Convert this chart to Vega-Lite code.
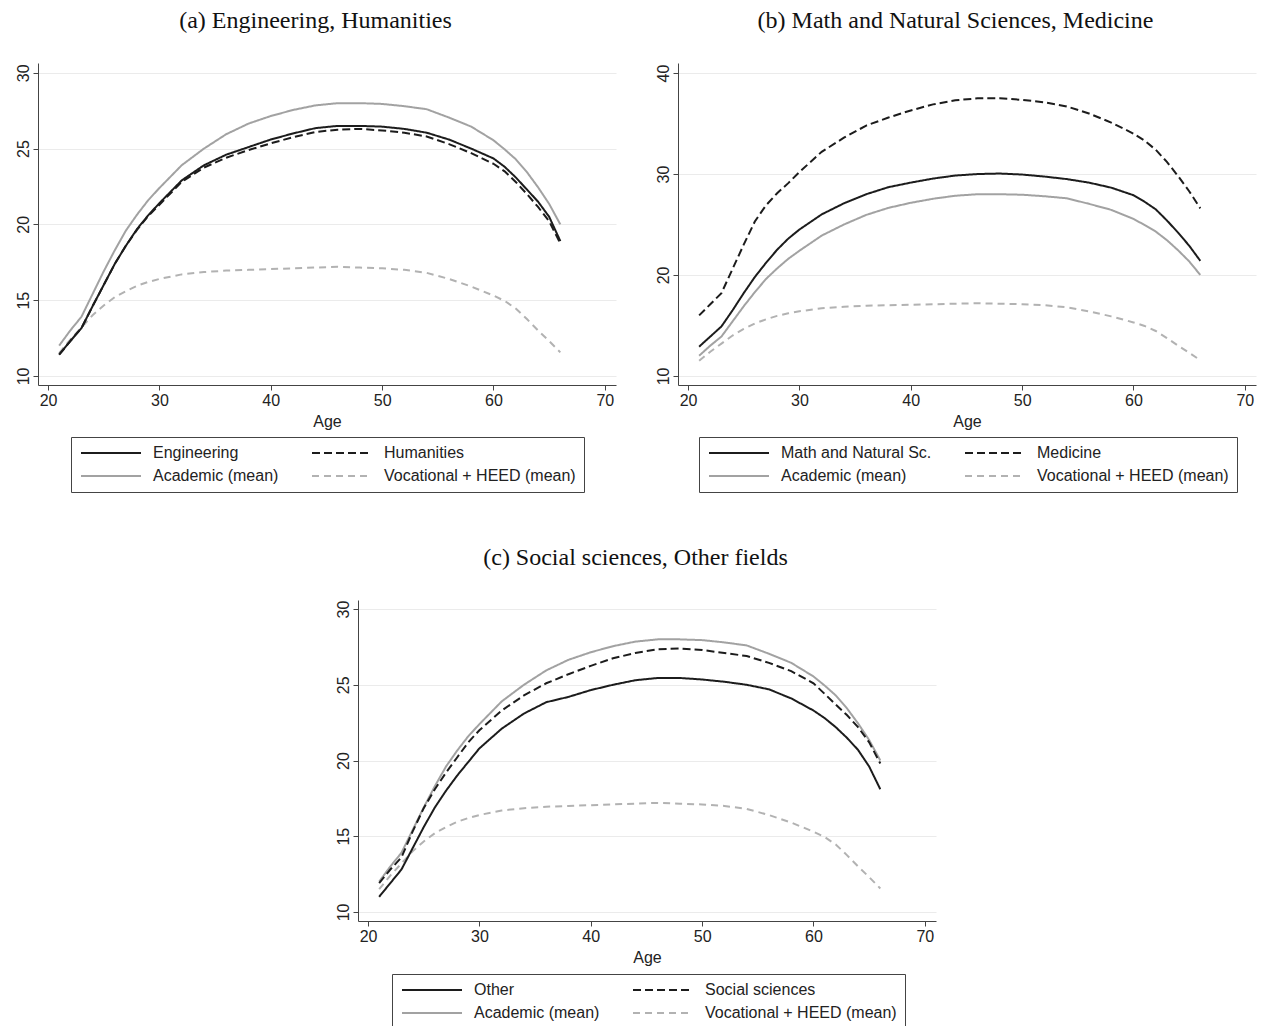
{
  "$schema": "https://vega.github.io/schema/vega-lite/v6.json",
  "background": "white",
  "padding": {"left": 14, "top": 9, "right": 4, "bottom": 0},
  "datasets": {
    "d": [
      {"s":"Academic (mean)","a":21,"v":12.0},{"s":"Academic (mean)","a":22,"v":13.0},{"s":"Academic (mean)","a":23,"v":13.9},{"s":"Academic (mean)","a":24,"v":15.4},{"s":"Academic (mean)","a":25,"v":16.9},{"s":"Academic (mean)","a":26,"v":18.3},{"s":"Academic (mean)","a":27,"v":19.6},{"s":"Academic (mean)","a":28,"v":20.65},{"s":"Academic (mean)","a":29,"v":21.6},{"s":"Academic (mean)","a":30,"v":22.4},{"s":"Academic (mean)","a":32,"v":23.9},{"s":"Academic (mean)","a":34,"v":25.0},{"s":"Academic (mean)","a":36,"v":25.95},{"s":"Academic (mean)","a":38,"v":26.65},{"s":"Academic (mean)","a":40,"v":27.15},{"s":"Academic (mean)","a":42,"v":27.55},{"s":"Academic (mean)","a":44,"v":27.85},{"s":"Academic (mean)","a":46,"v":28.0},{"s":"Academic (mean)","a":48,"v":28.0},{"s":"Academic (mean)","a":50,"v":27.95},{"s":"Academic (mean)","a":52,"v":27.8},{"s":"Academic (mean)","a":54,"v":27.6},{"s":"Academic (mean)","a":56,"v":27.05},{"s":"Academic (mean)","a":58,"v":26.45},{"s":"Academic (mean)","a":60,"v":25.55},{"s":"Academic (mean)","a":61,"v":24.95},{"s":"Academic (mean)","a":62,"v":24.3},{"s":"Academic (mean)","a":63,"v":23.45},{"s":"Academic (mean)","a":64,"v":22.45},{"s":"Academic (mean)","a":65,"v":21.35},{"s":"Academic (mean)","a":66,"v":20.0},
      {"s":"Vocational + HEED (mean)","a":21,"v":11.5},{"s":"Vocational + HEED (mean)","a":22,"v":12.4},{"s":"Vocational + HEED (mean)","a":23,"v":13.2},{"s":"Vocational + HEED (mean)","a":24,"v":14.0},{"s":"Vocational + HEED (mean)","a":25,"v":14.65},{"s":"Vocational + HEED (mean)","a":26,"v":15.2},{"s":"Vocational + HEED (mean)","a":27,"v":15.6},{"s":"Vocational + HEED (mean)","a":28,"v":15.95},{"s":"Vocational + HEED (mean)","a":29,"v":16.2},{"s":"Vocational + HEED (mean)","a":30,"v":16.4},{"s":"Vocational + HEED (mean)","a":32,"v":16.7},{"s":"Vocational + HEED (mean)","a":34,"v":16.85},{"s":"Vocational + HEED (mean)","a":36,"v":16.95},{"s":"Vocational + HEED (mean)","a":38,"v":17.0},{"s":"Vocational + HEED (mean)","a":40,"v":17.05},{"s":"Vocational + HEED (mean)","a":42,"v":17.1},{"s":"Vocational + HEED (mean)","a":44,"v":17.15},{"s":"Vocational + HEED (mean)","a":46,"v":17.2},{"s":"Vocational + HEED (mean)","a":48,"v":17.15},{"s":"Vocational + HEED (mean)","a":50,"v":17.1},{"s":"Vocational + HEED (mean)","a":52,"v":17.0},{"s":"Vocational + HEED (mean)","a":54,"v":16.8},{"s":"Vocational + HEED (mean)","a":56,"v":16.4},{"s":"Vocational + HEED (mean)","a":58,"v":15.9},{"s":"Vocational + HEED (mean)","a":60,"v":15.3},{"s":"Vocational + HEED (mean)","a":61,"v":14.95},{"s":"Vocational + HEED (mean)","a":62,"v":14.45},{"s":"Vocational + HEED (mean)","a":63,"v":13.75},{"s":"Vocational + HEED (mean)","a":64,"v":13.0},{"s":"Vocational + HEED (mean)","a":65,"v":12.3},{"s":"Vocational + HEED (mean)","a":66,"v":11.55},
      {"s":"Engineering","a":21,"v":11.4},{"s":"Engineering","a":22,"v":12.3},{"s":"Engineering","a":23,"v":13.15},{"s":"Engineering","a":24,"v":14.6},{"s":"Engineering","a":25,"v":16.0},{"s":"Engineering","a":26,"v":17.4},{"s":"Engineering","a":27,"v":18.6},{"s":"Engineering","a":28,"v":19.7},{"s":"Engineering","a":29,"v":20.6},{"s":"Engineering","a":30,"v":21.4},{"s":"Engineering","a":32,"v":22.9},{"s":"Engineering","a":34,"v":23.9},{"s":"Engineering","a":36,"v":24.6},{"s":"Engineering","a":38,"v":25.1},{"s":"Engineering","a":40,"v":25.6},{"s":"Engineering","a":42,"v":26.0},{"s":"Engineering","a":44,"v":26.35},{"s":"Engineering","a":46,"v":26.5},{"s":"Engineering","a":48,"v":26.5},{"s":"Engineering","a":50,"v":26.45},{"s":"Engineering","a":52,"v":26.3},{"s":"Engineering","a":54,"v":26.05},{"s":"Engineering","a":56,"v":25.6},{"s":"Engineering","a":58,"v":25.0},{"s":"Engineering","a":60,"v":24.35},{"s":"Engineering","a":61,"v":23.8},{"s":"Engineering","a":62,"v":23.1},{"s":"Engineering","a":63,"v":22.3},{"s":"Engineering","a":64,"v":21.5},{"s":"Engineering","a":65,"v":20.5},{"s":"Engineering","a":66,"v":18.9},
      {"s":"Humanities","a":21,"v":11.4},{"s":"Humanities","a":22,"v":12.3},{"s":"Humanities","a":23,"v":13.15},{"s":"Humanities","a":24,"v":14.6},{"s":"Humanities","a":25,"v":16.0},{"s":"Humanities","a":26,"v":17.4},{"s":"Humanities","a":27,"v":18.6},{"s":"Humanities","a":28,"v":19.65},{"s":"Humanities","a":29,"v":20.55},{"s":"Humanities","a":30,"v":21.3},{"s":"Humanities","a":32,"v":22.8},{"s":"Humanities","a":34,"v":23.75},{"s":"Humanities","a":36,"v":24.4},{"s":"Humanities","a":38,"v":24.9},{"s":"Humanities","a":40,"v":25.35},{"s":"Humanities","a":42,"v":25.75},{"s":"Humanities","a":44,"v":26.1},{"s":"Humanities","a":46,"v":26.25},{"s":"Humanities","a":48,"v":26.3},{"s":"Humanities","a":50,"v":26.2},{"s":"Humanities","a":52,"v":26.05},{"s":"Humanities","a":54,"v":25.8},{"s":"Humanities","a":56,"v":25.3},{"s":"Humanities","a":58,"v":24.7},{"s":"Humanities","a":60,"v":24.0},{"s":"Humanities","a":61,"v":23.5},{"s":"Humanities","a":62,"v":22.8},{"s":"Humanities","a":63,"v":22.0},{"s":"Humanities","a":64,"v":21.15},{"s":"Humanities","a":65,"v":20.2},{"s":"Humanities","a":66,"v":18.75},
      {"s":"Math and Natural Sc.","a":21,"v":12.9},{"s":"Math and Natural Sc.","a":22,"v":13.9},{"s":"Math and Natural Sc.","a":23,"v":14.9},{"s":"Math and Natural Sc.","a":24,"v":16.5},{"s":"Math and Natural Sc.","a":25,"v":18.2},{"s":"Math and Natural Sc.","a":26,"v":19.8},{"s":"Math and Natural Sc.","a":27,"v":21.2},{"s":"Math and Natural Sc.","a":28,"v":22.5},{"s":"Math and Natural Sc.","a":29,"v":23.6},{"s":"Math and Natural Sc.","a":30,"v":24.5},{"s":"Math and Natural Sc.","a":32,"v":26.0},{"s":"Math and Natural Sc.","a":34,"v":27.1},{"s":"Math and Natural Sc.","a":36,"v":28.0},{"s":"Math and Natural Sc.","a":38,"v":28.7},{"s":"Math and Natural Sc.","a":40,"v":29.15},{"s":"Math and Natural Sc.","a":42,"v":29.55},{"s":"Math and Natural Sc.","a":44,"v":29.85},{"s":"Math and Natural Sc.","a":46,"v":30.0},{"s":"Math and Natural Sc.","a":48,"v":30.05},{"s":"Math and Natural Sc.","a":50,"v":29.95},{"s":"Math and Natural Sc.","a":52,"v":29.75},{"s":"Math and Natural Sc.","a":54,"v":29.5},{"s":"Math and Natural Sc.","a":56,"v":29.15},{"s":"Math and Natural Sc.","a":58,"v":28.65},{"s":"Math and Natural Sc.","a":60,"v":27.9},{"s":"Math and Natural Sc.","a":61,"v":27.25},{"s":"Math and Natural Sc.","a":62,"v":26.5},{"s":"Math and Natural Sc.","a":63,"v":25.4},{"s":"Math and Natural Sc.","a":64,"v":24.2},{"s":"Math and Natural Sc.","a":65,"v":22.9},{"s":"Math and Natural Sc.","a":66,"v":21.4},
      {"s":"Medicine","a":21,"v":16.0},{"s":"Medicine","a":22,"v":17.1},{"s":"Medicine","a":23,"v":18.2},{"s":"Medicine","a":24,"v":20.6},{"s":"Medicine","a":25,"v":23.0},{"s":"Medicine","a":26,"v":25.3},{"s":"Medicine","a":27,"v":26.9},{"s":"Medicine","a":28,"v":28.1},{"s":"Medicine","a":29,"v":29.1},{"s":"Medicine","a":30,"v":30.2},{"s":"Medicine","a":32,"v":32.2},{"s":"Medicine","a":34,"v":33.6},{"s":"Medicine","a":36,"v":34.8},{"s":"Medicine","a":38,"v":35.6},{"s":"Medicine","a":40,"v":36.3},{"s":"Medicine","a":42,"v":36.9},{"s":"Medicine","a":44,"v":37.3},{"s":"Medicine","a":46,"v":37.5},{"s":"Medicine","a":48,"v":37.5},{"s":"Medicine","a":50,"v":37.35},{"s":"Medicine","a":52,"v":37.1},{"s":"Medicine","a":54,"v":36.7},{"s":"Medicine","a":56,"v":36.0},{"s":"Medicine","a":58,"v":35.1},{"s":"Medicine","a":60,"v":34.0},{"s":"Medicine","a":61,"v":33.3},{"s":"Medicine","a":62,"v":32.4},{"s":"Medicine","a":63,"v":31.2},{"s":"Medicine","a":64,"v":29.8},{"s":"Medicine","a":65,"v":28.3},{"s":"Medicine","a":66,"v":26.6},
      {"s":"Other","a":21,"v":11.0},{"s":"Other","a":22,"v":11.9},{"s":"Other","a":23,"v":12.8},{"s":"Other","a":24,"v":14.2},{"s":"Other","a":25,"v":15.6},{"s":"Other","a":26,"v":16.9},{"s":"Other","a":27,"v":18.0},{"s":"Other","a":28,"v":19.0},{"s":"Other","a":29,"v":19.9},{"s":"Other","a":30,"v":20.8},{"s":"Other","a":32,"v":22.1},{"s":"Other","a":34,"v":23.1},{"s":"Other","a":36,"v":23.85},{"s":"Other","a":38,"v":24.2},{"s":"Other","a":40,"v":24.65},{"s":"Other","a":42,"v":25.0},{"s":"Other","a":44,"v":25.3},{"s":"Other","a":46,"v":25.45},{"s":"Other","a":48,"v":25.45},{"s":"Other","a":50,"v":25.35},{"s":"Other","a":52,"v":25.2},{"s":"Other","a":54,"v":25.0},{"s":"Other","a":56,"v":24.7},{"s":"Other","a":58,"v":24.1},{"s":"Other","a":60,"v":23.3},{"s":"Other","a":61,"v":22.8},{"s":"Other","a":62,"v":22.2},{"s":"Other","a":63,"v":21.5},{"s":"Other","a":64,"v":20.7},{"s":"Other","a":65,"v":19.6},{"s":"Other","a":66,"v":18.1},
      {"s":"Social sciences","a":21,"v":11.9},{"s":"Social sciences","a":22,"v":12.8},{"s":"Social sciences","a":23,"v":13.6},{"s":"Social sciences","a":24,"v":15.3},{"s":"Social sciences","a":25,"v":16.85},{"s":"Social sciences","a":26,"v":18.1},{"s":"Social sciences","a":27,"v":19.2},{"s":"Social sciences","a":28,"v":20.2},{"s":"Social sciences","a":29,"v":21.2},{"s":"Social sciences","a":30,"v":22.0},{"s":"Social sciences","a":32,"v":23.3},{"s":"Social sciences","a":34,"v":24.3},{"s":"Social sciences","a":36,"v":25.1},{"s":"Social sciences","a":38,"v":25.7},{"s":"Social sciences","a":40,"v":26.25},{"s":"Social sciences","a":42,"v":26.75},{"s":"Social sciences","a":44,"v":27.1},{"s":"Social sciences","a":46,"v":27.35},{"s":"Social sciences","a":48,"v":27.4},{"s":"Social sciences","a":50,"v":27.3},{"s":"Social sciences","a":52,"v":27.1},{"s":"Social sciences","a":54,"v":26.9},{"s":"Social sciences","a":56,"v":26.45},{"s":"Social sciences","a":58,"v":25.9},{"s":"Social sciences","a":60,"v":25.1},{"s":"Social sciences","a":61,"v":24.4},{"s":"Social sciences","a":62,"v":23.7},{"s":"Social sciences","a":63,"v":23.0},{"s":"Social sciences","a":64,"v":22.2},{"s":"Social sciences","a":65,"v":21.2},{"s":"Social sciences","a":66,"v":19.8}
    ]
  },
  "config": {
    "view": {"stroke": null},
    "font": "Liberation Sans",
    "axis": {"domainColor": "#444", "tickColor": "#444", "tickSize": 5, "labelFont": "Liberation Sans", "labelFontSize": 16, "labelColor": "#222", "titleFont": "Liberation Sans", "titleFontSize": 16, "titleFontWeight": "normal", "titleColor": "#222", "grid": false, "labelPadding": 2},
    "axisY": {"grid": true, "gridColor": "#ebebeb", "labelAngle": -90, "labelAlign": "center", "labelBaseline": "bottom"},
    "axisX": {"titlePadding": 5},
    "title": {"font": "Liberation Serif", "fontSize": 24, "fontWeight": "normal", "color": "#111", "frame": "bounds", "anchor": "middle", "offset": 30},
    "legend": {"direction": "horizontal", "symbolType": "M-5,0H5", "symbolSize": 144, "symbolOffset": 24, "labelOffset": 34, "labelLimit": 400, "labelFont": "Liberation Sans", "labelFontSize": 16, "labelColor": "#222", "columns": 2, "columnPadding": 29, "rowPadding": 7, "padding": 8, "strokeColor": "#444", "fillColor": "white", "symbolFillColor": "transparent"}
  },
  "spacing": 53,
  "center": true,
  "resolve": {"scale": {"color": "independent", "strokeDash": "independent", "strokeWidth": "independent", "x": "independent", "y": "independent"}, "legend": {"color": "independent", "strokeDash": "independent", "strokeWidth": "independent"}},
  "vconcat": [
    {
      "spacing": 39,
      "resolve": {"scale": {"color": "independent", "strokeDash": "independent", "strokeWidth": "independent", "x": "independent", "y": "independent"}, "legend": {"color": "independent", "strokeDash": "independent", "strokeWidth": "independent"}},
      "hconcat": [
        {
          "title": "(a) Engineering, Humanities",
          "width": 578, "height": 322,
          "data": {"name": "d"},
          "transform": [{"filter": {"field": "s", "oneOf": ["Engineering", "Humanities", "Academic (mean)", "Vocational + HEED (mean)"]}}],
          "mark": {"type": "line", "clip": true},
          "encoding": {
            "x": {"field": "a", "type": "quantitative", "scale": {"domain": [19.1, 71], "nice": false, "zero": false}, "axis": {"values": [20, 30, 40, 50, 60, 70], "title": "Age"}},
            "y": {"field": "v", "type": "quantitative", "scale": {"domain": [9.4, 30.65], "nice": false, "zero": false}, "axis": {"values": [10, 15, 20, 25, 30], "title": null}},
            "color": {"field": "s", "type": "nominal", "title": null, "scale": {"domain": ["Engineering", "Humanities", "Academic (mean)", "Vocational + HEED (mean)"], "range": ["#1c1c1c", "#1c1c1c", "#a2a2a2", "#b2b2b2"]}, "legend": {"orient": "none", "legendX": 33, "legendY": 374}},
            "strokeDash": {"field": "s", "type": "nominal", "title": null, "scale": {"domain": ["Engineering", "Humanities", "Academic (mean)", "Vocational + HEED (mean)"], "range": [[1, 0], [8, 4], [1, 0], [7, 5]]}, "legend": {"orient": "none", "legendX": 33, "legendY": 374}},
            "strokeWidth": {"field": "s", "type": "nominal", "title": null, "scale": {"domain": ["Engineering", "Humanities", "Academic (mean)", "Vocational + HEED (mean)"], "range": [2, 2, 1.5, 1.5]}, "legend": {"orient": "none", "legendX": 33, "legendY": 374}}
          }
        },
        {
          "title": "(b) Math and Natural Sciences, Medicine",
          "width": 578, "height": 322,
          "data": {"name": "d"},
          "transform": [{"filter": {"field": "s", "oneOf": ["Math and Natural Sc.", "Medicine", "Academic (mean)", "Vocational + HEED (mean)"]}}],
          "mark": {"type": "line", "clip": true},
          "encoding": {
            "x": {"field": "a", "type": "quantitative", "scale": {"domain": [19.1, 71], "nice": false, "zero": false}, "axis": {"values": [20, 30, 40, 50, 60, 70], "title": "Age"}},
            "y": {"field": "v", "type": "quantitative", "scale": {"domain": [9.1, 41.0], "nice": false, "zero": false}, "axis": {"values": [10, 20, 30, 40], "title": null}},
            "color": {"field": "s", "type": "nominal", "title": null, "scale": {"domain": ["Math and Natural Sc.", "Medicine", "Academic (mean)", "Vocational + HEED (mean)"], "range": ["#1c1c1c", "#1c1c1c", "#a2a2a2", "#b2b2b2"]}, "legend": {"orient": "none", "legendX": 21, "legendY": 374}},
            "strokeDash": {"field": "s", "type": "nominal", "title": null, "scale": {"domain": ["Math and Natural Sc.", "Medicine", "Academic (mean)", "Vocational + HEED (mean)"], "range": [[1, 0], [8, 4], [1, 0], [7, 5]]}, "legend": {"orient": "none", "legendX": 21, "legendY": 374}},
            "strokeWidth": {"field": "s", "type": "nominal", "title": null, "scale": {"domain": ["Math and Natural Sc.", "Medicine", "Academic (mean)", "Vocational + HEED (mean)"], "range": [2, 2, 1.5, 1.5]}, "legend": {"orient": "none", "legendX": 21, "legendY": 374}}
          }
        }
      ]
    },
    {
      "title": "(c) Social sciences, Other fields",
      "width": 578, "height": 321,
      "data": {"name": "d"},
      "transform": [{"filter": {"field": "s", "oneOf": ["Other", "Social sciences", "Academic (mean)", "Vocational + HEED (mean)"]}}],
      "mark": {"type": "line", "clip": true},
      "encoding": {
        "x": {"field": "a", "type": "quantitative", "scale": {"domain": [19.1, 71], "nice": false, "zero": false}, "axis": {"values": [20, 30, 40, 50, 60, 70], "title": "Age"}},
        "y": {"field": "v", "type": "quantitative", "scale": {"domain": [9.4, 30.6], "nice": false, "zero": false}, "axis": {"values": [10, 15, 20, 25, 30], "title": null}},
        "color": {"field": "s", "type": "nominal", "title": null, "scale": {"domain": ["Other", "Social sciences", "Academic (mean)", "Vocational + HEED (mean)"], "range": ["#1c1c1c", "#1c1c1c", "#a2a2a2", "#b2b2b2"]}, "legend": {"orient": "none", "legendX": 34, "legendY": 374}},
        "strokeDash": {"field": "s", "type": "nominal", "title": null, "scale": {"domain": ["Other", "Social sciences", "Academic (mean)", "Vocational + HEED (mean)"], "range": [[1, 0], [8, 4], [1, 0], [7, 5]]}, "legend": {"orient": "none", "legendX": 34, "legendY": 374}},
        "strokeWidth": {"field": "s", "type": "nominal", "title": null, "scale": {"domain": ["Other", "Social sciences", "Academic (mean)", "Vocational + HEED (mean)"], "range": [2, 2, 1.5, 1.5]}, "legend": {"orient": "none", "legendX": 34, "legendY": 374}}
      }
    }
  ]
}
